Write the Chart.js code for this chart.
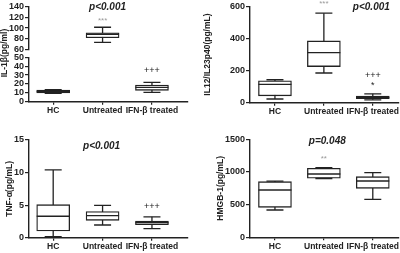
<!DOCTYPE html>
<html><head><meta charset="utf-8">
<script src="https://cdn.jsdelivr.net/npm/chart.js@4/dist/chart.umd.min.js"></script>
<style>
html,body{margin:0;padding:0;background:#fff;}
#wrap{position:relative;width:400px;height:253px;overflow:hidden;background:#fff;}
canvas{position:absolute;}
</style></head><body>
<div id="wrap">
<canvas id="cAhi" style="left:0;top:0;width:200px;height:126px" width="200" height="126"></canvas>
<canvas id="cAlo" style="left:0;top:0;width:200px;height:126px" width="200" height="126"></canvas>
<canvas id="cB" style="left:200px;top:0;width:200px;height:126px" width="200" height="126"></canvas>
<canvas id="cC" style="left:0;top:126px;width:200px;height:127px" width="200" height="127"></canvas>
<canvas id="cD" style="left:200px;top:126px;width:200px;height:127px" width="200" height="127"></canvas>
</div>
<script>
// ---------- data ----------
const categories = ['HC', 'Untreated', 'IFN-\u03B2 treated'];

// IL-1β (pg/ml) — broken axis
const il1bLow  = [9.5, 73.6, 10.6];
const il1bQ1   = [10.0, 82.0, 12.8];
const il1bMed  = [11.5, 88.5, 16.2];
const il1bQ3   = [13.0, 91.2, 18.8];
const il1bHigh = [13.5, 101.5, 21.8];
const il1bTicksLow  = [0, 10, 20, 30, 40, 50];
const il1bTicksHigh = [60, 80, 100, 120, 140];

// IL12/IL23p40 (pg/mL)
const il12Low  = [23, 185, 18];
const il12Q1   = [43, 225, 25];
const il12Med  = [114, 312, 32];
const il12Q3   = [137, 385, 42];
const il12High = [143, 558, 55];
const il12Ticks = [0, 200, 400, 600];

// TNF-α (pg/mL)
const tnfLow  = [0.15, 1.95, 1.38];
const tnfQ1   = [1.03, 2.67, 2.0];
const tnfMed  = [3.29, 3.4, 2.3];
const tnfQ3   = [5.07, 4.0, 2.56];
const tnfHigh = [10.4, 4.97, 3.2];
const tnfTicks = [0, 5, 10, 15];

// HMGB-1 (pg/mL)
const hmgLow  = [418, 900, 581];
const hmgQ1   = [459, 905, 750];
const hmgMed  = [724, 969, 862];
const hmgQ3   = [851, 1055, 928];
const hmgHigh = [860, 1065, 989];
const hmgTicks = [0, 500, 1000, 1500];

// significance labels: [category index, value, text]
const il1bMarksHigh = [[1, 114, '***']];
const il1bMarksLow  = [[2, 34.6, '+++']];
const il1bP = [1.1, 138, 'p<0.001'];
const il12Marks = [[1, 618, '***'], [2, 169, '+++'], [2, 106, '*']];
const il12P = [1.97, 592, 'p<0.001'];
const tnfMarks = [[2, 4.8, '+++']];
const tnfP = [0.98, 14.1, 'p<0.001'];
const hmgMarks = [[1, 1209, '**']];
const hmgP = [1.07, 1463, 'p=0.048'];

// ---------- rendering ----------
const INK = '#222';
const FONT = "'Liberation Sans', Arial, sans-serif";

const boxPlugin = {
  id: 'boxw',
  beforeDatasetsDraw(chart, args, o) {
    const ctx = chart.ctx, xs = chart.scales.x, ys = chart.scales.y, ca = chart.chartArea;
    ctx.save();
    ctx.beginPath(); ctx.rect(ca.left, ca.top - 1, ca.right - ca.left, ca.bottom - ca.top + 2); ctx.clip();
    ctx.strokeStyle = INK; ctx.lineWidth = 1.3;
    o.low.forEach((lo, i) => {
      const x = xs.getPixelForValue(i);
      ctx.beginPath();
      ctx.moveTo(x, ys.getPixelForValue(lo)); ctx.lineTo(x, ys.getPixelForValue(o.high[i]));
      ctx.stroke();
    });
    ctx.restore();
  },
  afterDatasetsDraw(chart, args, o) {
    const ctx = chart.ctx, xs = chart.scales.x, ys = chart.scales.y, ca = chart.chartArea;
    ctx.save();
    ctx.beginPath(); ctx.rect(ca.left, ca.top - 1, ca.right - ca.left, ca.bottom - ca.top + 2); ctx.clip();
    ctx.strokeStyle = INK; ctx.lineWidth = 1.3;
    o.low.forEach((lo, i) => {
      const x = xs.getPixelForValue(i);
      const cw = o.capW / 2, bw = o.boxW / 2;
      [lo, o.high[i]].forEach(v => {
        const y = ys.getPixelForValue(v);
        ctx.beginPath(); ctx.moveTo(x - cw, y); ctx.lineTo(x + cw, y); ctx.stroke();
      });
      const ym = ys.getPixelForValue(o.med[i]);
      ctx.beginPath(); ctx.moveTo(x - bw, ym); ctx.lineTo(x + bw, ym); ctx.stroke();
    });
    ctx.restore();
  },
  afterDraw(chart, args, o) {
    const ctx = chart.ctx, xs = chart.scales.x, ys = chart.scales.y;
    ctx.save();
    ctx.textAlign = 'center'; ctx.textBaseline = 'middle';
    (o.marks || []).forEach(([c, v, t]) => {
      const grey = t.startsWith('*') && t.length > 1;
      ctx.fillStyle = grey ? '#9a9a9a' : INK;
      ctx.font = (grey ? '8px ' : '9px ') + FONT;
      ctx.fillText(t, xs.getPixelForValue(c), ys.getPixelForValue(v));
    });
    if (o.p) {
      ctx.fillStyle = INK;
      ctx.font = 'italic bold 10px ' + FONT;
      ctx.fillText(o.p[2], xs.getPixelForValue(o.p[0]), ys.getPixelForValue(o.p[1]));
    }
    if (o.ytitle) {
      ctx.translate(o.ytitle[1], o.ytitle[2]);
      ctx.rotate(-Math.PI / 2);
      ctx.fillStyle = INK;
      ctx.font = 'bold 8.5px ' + FONT;
      ctx.fillText(o.ytitle[0], 0, 0);
    }
    ctx.restore();
  }
};

function makeChart(id, cfg) {
  const {low, q1, med, q3, high, yMin, yMax, yTicks, xMin, xMax, axisW, pad, xAxisH,
         showX, title, titlePad, marks, p, ytitle} = cfg;
  return new Chart(document.getElementById(id), {
    type: 'bar',
    data: {
      datasets: [{
        data: categories.map((c, i) => ({ x: i, y: [q1[i], q3[i]] })),
        backgroundColor: '#ffffff',
        borderColor: INK,
        borderWidth: 1.3,
        borderSkipped: false,
        barThickness: 33
      }]
    },
    options: {
      responsive: false,
      animation: false,
      events: [],
      layout: { padding: pad },
      plugins: {
        legend: { display: false },
        tooltip: { enabled: false },
        boxw: { low, med, high, boxW: 33, capW: 17, marks, p, ytitle }
      },
      scales: {
        x: {
          type: 'linear',
          offset: false,
          min: xMin, max: xMax,
          display: showX,
          afterBuildTicks: s => { s.ticks = categories.map((c, i) => ({ value: i })); },
          afterFit: s => { s.height = xAxisH; },
          border: { display: true, color: INK, width: 1.4 },
          grid: { display: true, offset: false, drawOnChartArea: false, drawTicks: true, tickLength: 3, color: INK, lineWidth: 1.2 },
          ticks: {
            padding: 1, maxRotation: 0, autoSkip: false,
            color: INK, font: { family: FONT, size: 8.5, weight: 'bold' },
            callback: v => categories[v]
          }
        },
        y: {
          min: yMin, max: yMax,
          afterBuildTicks: s => { s.ticks = yTicks.map(v => ({ value: v })); },
          afterFit: s => { s.width = axisW; },
          border: { display: true, color: INK, width: 1.4 },
          grid: { display: true, drawOnChartArea: false, drawTicks: true, tickLength: 4, color: INK, lineWidth: 1.2 },
          title: title ? { display: true, text: title, color: INK, font: { family: FONT, size: 8.5, weight: 'bold' }, padding: { top: titlePad, bottom: 0 } } : { display: false },
          ticks: {
            padding: 1, autoSkip: false, color: INK, font: { family: FONT, size: 9, weight: 'bold' },
            callback: v => String(v)
          }
        }
      }
    },
    plugins: [boxPlugin]
  });
}

// Panel A upper (60–140)
makeChart('cAhi', {
  low: il1bLow, q1: il1bQ1, med: il1bMed, q3: il1bQ3, high: il1bHigh,
  yMin: 60, yMax: 140, yTicks: il1bTicksHigh, xMin: -0.49, xMax: 2.73, axisW: 29,
  pad: { top: 4.3, bottom: 76.3, left: 0, right: 12 }, xAxisH: 0, showX: false,
  marks: il1bMarksHigh, p: il1bP
});
// Panel A lower (0–50)
makeChart('cAlo', {
  low: il1bLow, q1: il1bQ1, med: il1bMed, q3: il1bQ3, high: il1bHigh,
  yMin: 0, yMax: 50, yTicks: il1bTicksLow, xMin: -0.49, xMax: 2.73, axisW: 29,
  pad: { top: 57.3, bottom: 0, left: 0, right: 12 }, xAxisH: 24.3, showX: true,
  marks: il1bMarksLow, ytitle: ['IL-1\u03B2(pg/ml)', 5, 53]
});
// Panel B
makeChart('cB', {
  low: il12Low, q1: il12Q1, med: il12Med, q3: il12Q3, high: il12High,
  yMin: 0, yMax: 600, yTicks: il12Ticks, xMin: -0.51, xMax: 2.53, axisW: 50,
  pad: { top: 4.7, bottom: 0, left: 0, right: 0 }, xAxisH: 23.3, showX: true,
  title: 'IL12/IL23p40(pg/mL)', titlePad: 3, marks: il12Marks, p: il12P
});
// Panel C
makeChart('cC', {
  low: tnfLow, q1: tnfQ1, med: tnfMed, q3: tnfQ3, high: tnfHigh,
  yMin: 0, yMax: 15, yTicks: tnfTicks, xMin: -0.49, xMax: 2.73, axisW: 29,
  pad: { top: 14, bottom: 0, left: 0, right: 12 }, xAxisH: 15.3, showX: true,
  title: 'TNF-\u03B1(pg/mL)', titlePad: 5, marks: tnfMarks, p: tnfP
});
// Panel D
makeChart('cD', {
  low: hmgLow, q1: hmgQ1, med: hmgMed, q3: hmgQ3, high: hmgHigh,
  yMin: 0, yMax: 1500, yTicks: hmgTicks, xMin: -0.51, xMax: 2.53, axisW: 50,
  pad: { top: 13.3, bottom: 0, left: 0, right: 0 }, xAxisH: 15.7, showX: true,
  title: 'HMGB-1(pg/mL)', titlePad: 16, marks: hmgMarks, p: hmgP
});
</script>
</body></html>
